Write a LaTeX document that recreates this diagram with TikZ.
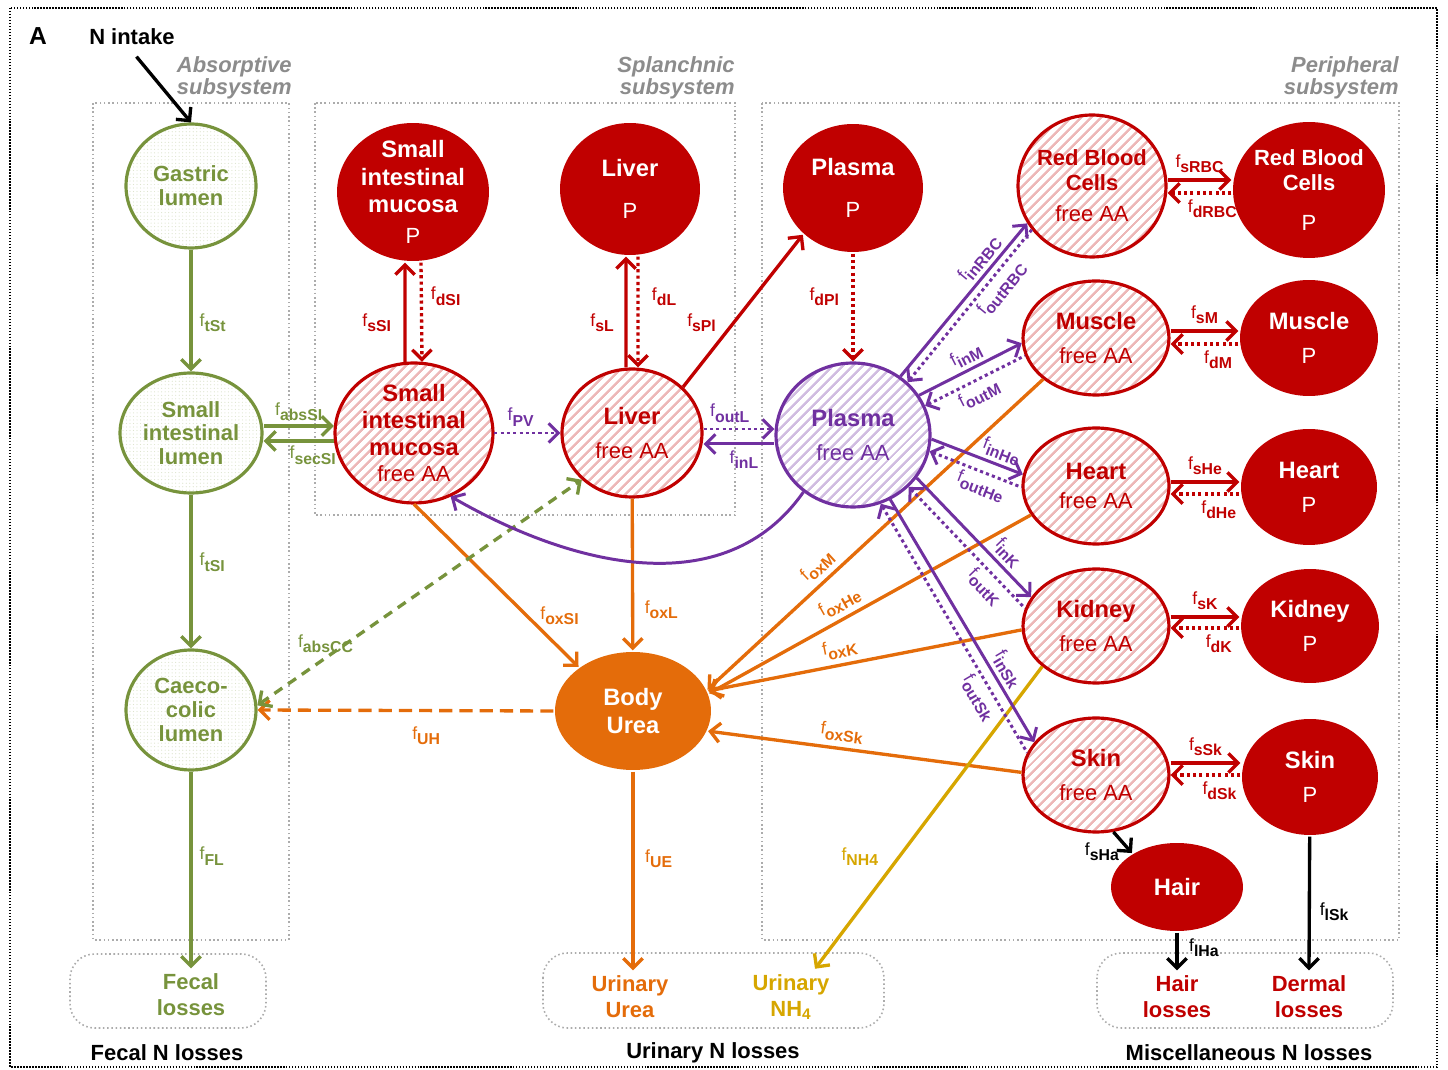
\documentclass[tikz,border=0pt]{standalone}
\usepackage{fontspec}
\setmainfont{Liberation Sans}
\usepackage{xcolor}
\usetikzlibrary{shapes.geometric,arrows.meta,patterns.meta,positioning}

\definecolor{dred}{HTML}{C00000}
\definecolor{lgreen}{HTML}{77933C}
\definecolor{orng}{HTML}{E46C0A}
\definecolor{purp}{HTML}{7030A0}
\definecolor{gold}{HTML}{D6A600}
\definecolor{sysgray}{HTML}{8C8C8C}

\newcommand\flux[1]{f\raisebox{-3pt}{\fontsize{9}{9}\selectfont\bfseries #1}}
\newcommand\protP{{\mdseries\fontsize{12.5}{15.5}\selectfont P}}
\newcommand\freeAA{{\mdseries\fontsize{12.5}{15.5}\selectfont free AA}}

\begin{document}
\begin{tikzpicture}[x=0.02cm, y=-0.02cm,
    >={Straight Barb[length=5.5pt,width=11pt]},
    pool/.style={ellipse, inner sep=-6pt, line width=1.8pt, align=center,
      font=\fontsize{13.5}{15.5}\selectfont\bfseries},
    sz/.style 2 args={minimum width=#1cm, minimum height=#2cm},
    lumen/.style={pool, draw=lgreen, text=lgreen,
      font=\fontsize{12.5}{13.5}\selectfont\bfseries,
      pattern={Dots[radius=0.35pt,distance=2pt]}, pattern color=lgreen!25},
    prot/.style={pool, fill=dred, text=white},
    freered/.style={pool, draw=dred, text=dred,
      pattern={Lines[angle=45,distance=4pt,line width=1.4pt]}, pattern color=dred!28},
    freepur/.style={pool, draw=purp, text=purp,
      pattern={Lines[angle=45,distance=4pt,line width=1.4pt]}, pattern color=purp!32},
    waste/.style={pool, fill=orng, text=white},
    rbc/.style={font=\fontsize{12.5}{14}\selectfont\bfseries},
    flow/.style={line width=1.9pt, ->},
    gflow/.style={flow, lgreen},
    rflow/.style={flow, dred},
    oflow/.style={flow, orng},
    yflow/.style={flow, gold},
    pflow/.style={flow, purp, line width=1.7pt},
    kflow/.style={flow, black},
    dotline/.style={dash pattern=on 1.8pt off 1.8pt},
    gdash/.style={dash pattern=on 5.5pt off 4pt},
    odash/.style={dash pattern=on 7.5pt off 4pt},
    lbl/.style={font=\fontsize{10}{11}\selectfont, inner sep=1pt},
    loss/.style={font=\fontsize{12.5}{14.8}\selectfont\bfseries, align=center, inner sep=3pt},
    ttl/.style={font=\fontsize{12.5}{14}\selectfont\bfseries},
    sysbox/.style={draw=gray!65, line width=0.9pt, dash pattern=on 0.9pt off 1.5pt},
    syslbl/.style={text=sysgray, font=\fontsize{12.5}{12.5}\selectfont\bfseries\itshape,
      align=right, anchor=east, inner sep=0pt}]

  \useasboundingbox (0,0) rectangle (1448,1070);
  \draw[line width=0.8pt, dash pattern=on 0.8pt off 0.9pt] (10,8) rectangle (1437,1067);

  % subsystems and losses
  \draw[sysbox] (93,103) rectangle (289,940);
  \draw[sysbox] (315,103) rectangle (735,515);
  \draw[sysbox] (762,103) rectangle (1399,940);
  \draw[sysbox, rounded corners=14pt] (70,954) rectangle (266,1028);
  \draw[sysbox, rounded corners=14pt] (543,953) rectangle (884,1028);
  \draw[sysbox, rounded corners=14pt] (1097,953) rectangle (1393,1028);
  \node[syslbl] (absys) at (292,78) {Absorptive\\subsystem};
  \node[syslbl] (splsys) at (735,78) {Splanchnic\\subsystem};
  \node[syslbl] (persys) at (1399,78) {Peripheral\\subsystem};

  \node[font=\fontsize{14}{14}\selectfont\bfseries] (panel) at (38,36) {A};
  \node[ttl] (intake) at (132,37) {N intake};

  % pools
  \node[lumen, sz={2.6}{2.48}] (gas) at (191,186) {Gastric\\lumen};
  \node[lumen, sz={2.84}{2.4}] (sil) at (191,433) {Small\\intestinal\\lumen};
  \node[lumen, sz={2.6}{2.4}] (cae) at (191,710) {Caeco-\\colic\\lumen};

  \node[prot, sz={3.04}{2.76}] (simp) at (413,192) {Small\\intestinal\\mucosa\\[2pt]\protP};
  \node[prot, sz={2.8}{2.64}] (lvp) at (630,189) {Liver\\[8pt]\protP};
  \node[prot, sz={2.8}{2.56}] (plp) at (853,188) {Plasma\\[8pt]\protP};
  \node[freered, sz={3.16}{2.8}] (simf) at (414,433) {Small\\intestinal\\mucosa\\[-1pt]\freeAA};
  \node[freered, sz={2.8}{2.56}] (lvf) at (632,433) {Liver\\[4pt]\freeAA};
  \node[freepur, sz={3.08}{2.88}] (plf) at (853,435) {Plasma\\[4pt]\freeAA};

  \node[freered, rbc, sz={2.96}{2.84}] (rbcf) at (1092,186) {Red Blood\\Cells\\[4pt]\freeAA};
  \node[prot, rbc, sz={3.04}{2.72}] (rbcp) at (1309,190) {Red Blood\\Cells\\[9pt]\protP};
  \node[freered, sz={2.92}{2.28}] (muf) at (1096,338) {Muscle\\[4pt]\freeAA};
  \node[prot, sz={2.76}{2.32}] (mup) at (1309,338) {Muscle\\[4pt]\protP};
  \node[freered, sz={2.92}{2.32}] (hef) at (1096,486) {Heart\\[1pt]\freeAA};
  \node[prot, sz={2.72}{2.32}] (hep) at (1309,487) {Heart\\[4pt]\protP};
  \node[freered, sz={2.92}{2.28}] (kif) at (1096,626) {Kidney\\[4pt]\freeAA};
  \node[prot, sz={2.76}{2.28}] (kip) at (1310,626) {Kidney\\[4pt]\protP};
  \node[freered, sz={2.92}{2.28}] (skf) at (1096,775) {Skin\\[4pt]\freeAA};
  \node[prot, sz={2.72}{2.32}] (skp) at (1310,777) {Skin\\[4pt]\protP};
  \node[prot, sz={2.64}{1.76}] (hair) at (1177,887) {Hair};

  \node[waste, sz={3.12}{2.36}] (urea) at (633,711) {Body\\Urea};

  \node[loss, text=lgreen] (fecal) at (191,995) {Fecal\\losses};
  \node[loss, text=orng] (uurea) at (630,997) {Urinary\\Urea};
  \node[loss, text=gold] (unh4) at (791,997) {Urinary\\NH\textsubscript{4}};
  \node[loss, text=dred] (hairl) at (1177,997) {Hair\\losses};
  \node[loss, text=dred] (derml) at (1309,997) {Dermal\\losses};

  \node[ttl] (fecN) at (167,1053) {Fecal N losses};
  \node[ttl] (urinN) at (713,1053) {Urinary N losses};
  \node[ttl] (miscN) at (1249,1053) {Miscellaneous N losses};

  % absorptive fluxes
  \draw[kflow, shorten <=4pt] (intake.south) -- (gas.north);
  \draw[gflow] (gas) -- (sil) node[lbl, pos=.6, right=3pt] {\flux{tSt}};
  \draw[gflow] (sil) -- (cae) node[lbl, pos=.44, right=3pt] {\flux{tSI}};
  \draw[gflow] (cae) -- (fecal.north) node[lbl, pos=.43, right=3pt] {\flux{FL}};
  \draw[gflow] ([yshift=0.14cm]sil.east) -- ([yshift=0.14cm]sil.east -| simf.west)
    node[lbl, midway, above=1pt] {\flux{absSI}};
  \draw[gflow] ([yshift=-0.16cm]sil.east -| simf.west) -- ([yshift=-0.16cm]sil.east)
    node[lbl, pos=.3, below=1pt] {\flux{secSI}};

  % urea and oxidation
  \draw[oflow] (simf.south) -- (urea.141) node[lbl, pos=.755, above right=-1pt] {\flux{oxSI}};
  \draw[oflow] (lvf) -- (urea) node[lbl, pos=.73, right=5pt] {\flux{oxL}};
  \draw[oflow, <-] (urea.16) -- (muf.218) node[lbl, sloped, pos=.36, above=2pt] {\flux{oxM}};
  \draw[oflow, <-] (urea.13) -- (hef.204) node[lbl, sloped, pos=.43, above=2pt] {\flux{oxHe}};
  \draw[oflow, <-] (urea.15) -- (kif.183) node[lbl, sloped, pos=.43, above=2pt] {\flux{oxK}};
  \draw[oflow, <-] (urea.345) -- (skf.178) node[lbl, sloped, pos=.42, above=2pt] {\flux{oxSk}};
  \draw[oflow, odash] (urea.west) -- (cae.east) node[lbl, pos=.43, below=7pt] {\flux{UH}};
  \draw[oflow] (urea.south) -- (urea.south |- uurea.north) node[lbl, pos=.44, right=5pt] {\flux{UE}};
  \draw[yflow] (kif.217) -- ([xshift=0.48cm]unh4.north) node[lbl, pos=.63, left=10pt] {\flux{NH4}};
  \draw[gflow, gdash, <->] (cae.4) -- (lvf.223) node[lbl, pos=.21, above=1pt] {\flux{absCC}};

  % protein turnover
  \draw[rflow] ([xshift=-0.18cm]simf.north) -- ([xshift=-0.16cm]simp.south)
    node[lbl, pos=.39, left=6pt] {\flux{sSI}};
  \draw[rflow, dotline] ([xshift=0.16cm]simp.south) -- ([xshift=0.16cm]simf.north)
    node[lbl, pos=.34, right=3.5pt] {\flux{dSI}};
  \draw[rflow] ([xshift=-0.12cm]lvf.north) -- ([xshift=-0.08cm]lvp.south)
    node[lbl, pos=.4, left=5pt] {\flux{sL}};
  \draw[rflow, dotline] ([xshift=0.16cm]lvp.south) -- ([xshift=0.12cm]lvf.north)
    node[lbl, pos=.36, right=6pt] {\flux{dL}};
  \draw[rflow] (lvf.42) -- (plp.223) node[lbl, pos=.42, left=8pt] {\flux{sPl}};
  \draw[rflow, dotline] (plp) -- (plf) node[lbl, pos=.4, left=6pt] {\flux{dPl}};

  \draw[rflow] ([yshift=0.12cm]rbcf.east) -- ([yshift=0.12cm]rbcf.east -| rbcp.west)
    node[lbl, midway, above=2pt] {\flux{sRBC}};
  \draw[rflow, dotline] ([yshift=-0.14cm]rbcf.east -| rbcp.west) -- ([yshift=-0.14cm]rbcf.east)
    node[lbl, pos=.3, below=2pt] {\flux{dRBC}};
  \draw[rflow] ([yshift=0.14cm]muf.east) -- ([yshift=0.14cm]muf.east -| mup.west)
    node[lbl, midway, above=2pt] {\flux{sM}};
  \draw[rflow, dotline] ([yshift=-0.12cm]muf.east -| mup.west) -- ([yshift=-0.12cm]muf.east)
    node[lbl, pos=.3, below=2pt] {\flux{dM}};
  \draw[rflow] ([yshift=0.08cm]hef.east) -- ([yshift=0.08cm]hef.east -| hep.west)
    node[lbl, midway, above=2pt] {\flux{sHe}};
  \draw[rflow, dotline] ([yshift=-0.16cm]hef.east -| hep.west) -- ([yshift=-0.16cm]hef.east)
    node[lbl, pos=.3, below=2pt] {\flux{dHe}};
  \draw[rflow] ([yshift=0.18cm]kif.east) -- ([yshift=0.18cm]kif.east -| kip.west)
    node[lbl, midway, above=2pt] {\flux{sK}};
  \draw[rflow, dotline] ([yshift=-0.04cm]kif.east -| kip.west) -- ([yshift=-0.04cm]kif.east)
    node[lbl, pos=.3, below=2pt] {\flux{dK}};
  \draw[rflow] ([yshift=0.24cm]skf.east) -- ([yshift=0.24cm]skf.east -| skp.west)
    node[lbl, midway, above=2pt] {\flux{sSk}};
  \draw[rflow, dotline] (skf.east -| skp.west) -- (skf.east)
    node[lbl, pos=.3, below=2pt] {\flux{dSk}};

  \draw[kflow] (skf.287) -- (hair.143) node[lbl, pos=.95, left=5pt] {\flux{sHa}};
  \draw[kflow] (hair) -- (hairl.north) node[lbl, pos=.4, right=5pt] {\flux{lHa}};
  \draw[kflow] (skp) -- (derml.north) node[lbl, pos=.56, right=4pt] {\flux{lSk}};

  % amino acid exchanges
  \draw[pflow, dotline] (simf.east) -- (lvf.west) node[lbl, pos=.4, above=2pt] {\flux{PV}};
  \draw[pflow, dotline] ([yshift=0.08cm]lvf.east) -- ([yshift=0.08cm]lvf.east -| plf.west)
    node[lbl, pos=.37, above=2pt] {\flux{outL}};
  \draw[pflow] ([yshift=-0.22cm]lvf.east -| plf.west) -- ([yshift=-0.22cm]lvf.east)
    node[lbl, pos=.43, below=2pt] {\flux{inL}};
  \draw[pflow] (plf.229) to[out=-125, in=-30] (simf.300) node[lbl, pos=.4, above=1pt] {\flux{inSI}};

  \draw[pflow] (plf.51) -- (rbcf.210) node[lbl, sloped, pos=.71, above=1pt] {\flux{inRBC}};
  \draw[pflow, dotline, <-] (plf.44) -- (rbcf.216) node[lbl, sloped, pos=.67, below=1pt] {\flux{outRBC}};
  \draw[pflow] (plf.31) -- (muf.184) node[lbl, sloped, pos=.52, above=1pt] {\flux{inM}};
  \draw[pflow, dotline, <-] (plf.22) -- (muf.194) node[lbl, sloped, pos=.48, below=1pt] {\flux{outM}};
  \draw[pflow] (plf.357) -- (hef.171) node[lbl, sloped, pos=.71, above=1pt] {\flux{inHe}};
  \draw[pflow, dotline, <-] (plf.348) -- (hef.181) node[lbl, sloped, pos=.61, below=1pt] {\flux{outHe}};
  \draw[pflow] (plf.326) -- (kif.156) node[lbl, sloped, pos=.71, above=1pt] {\flux{inK}};
  \draw[pflow, dotline, <-] (plf.317) -- (kif.166) node[lbl, sloped, pos=.74, below=1pt] {\flux{outK}};
  \draw[pflow] (plf.300) -- (skf.152) node[lbl, sloped, pos=.73, above=1pt] {\flux{inSk}};
  \draw[pflow, dotline, <-] (plf.292) -- (skf.162) node[lbl, sloped, pos=.75, below=1pt] {\flux{outSk}};
\end{tikzpicture}
\end{document}
